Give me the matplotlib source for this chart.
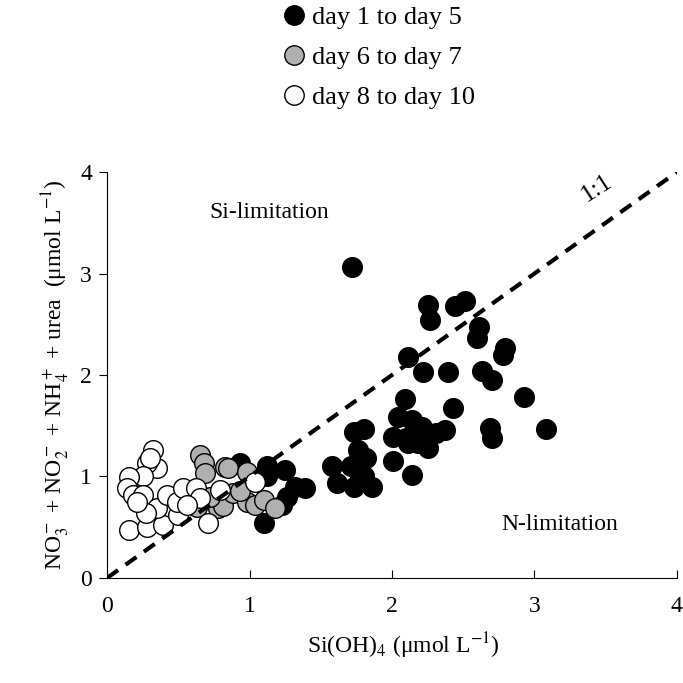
import matplotlib
matplotlib.use("Agg")
import matplotlib.pyplot as plt
from matplotlib.lines import Line2D

# day 1 to day 5
x_d1 = [1.72, 2.25, 2.27, 2.44, 2.51, 2.61, 2.60, 2.79, 2.78, 2.11, 2.22, 2.39, 2.63, 2.70,
        2.93, 2.09, 2.43, 3.08, 2.69, 2.70, 2.21, 2.37, 2.31, 2.25, 2.14, 2.04, 2.01, 2.11,
        2.10, 2.18, 2.01, 2.14, 1.73, 1.80, 1.76, 1.82, 1.58, 1.71, 1.61, 1.73, 1.86, 1.80,
        1.76, 1.39, 0.93, 1.12, 1.25, 1.12, 1.32, 1.26, 1.23, 1.10]
y_d1 = [3.06, 2.69, 2.54, 2.68, 2.73, 2.47, 2.36, 2.27, 2.20, 2.18, 2.03, 2.03, 2.04, 1.95,
        1.78, 1.76, 1.67, 1.47, 1.48, 1.38, 1.49, 1.46, 1.43, 1.28, 1.56, 1.59, 1.39, 1.33,
        1.38, 1.33, 1.15, 1.01, 1.44, 1.47, 1.26, 1.18, 1.10, 1.10, 0.93, 0.90, 0.90, 1.00,
        1.05, 0.89, 1.13, 1.10, 1.06, 1.00, 0.90, 0.80, 0.72, 0.54]

# day 6 to day 7
x_d6 = [0.65, 0.68, 0.69, 0.83, 0.85, 0.98, 0.63, 0.78, 0.81, 0.88, 0.98, 1.04, 1.10, 1.18,
        0.93, 0.72]
y_d6 = [1.21, 1.13, 1.03, 1.09, 1.08, 1.04, 0.70, 0.69, 0.71, 0.84, 0.75, 0.72, 0.77, 0.69,
        0.86, 0.80]

# day 8 to day 10
x_d8 = [0.32, 0.35, 0.28, 0.30, 0.25, 0.15, 0.14, 0.18, 0.25, 0.15, 0.28, 0.39, 0.35, 0.27,
        0.42, 0.50, 0.49, 0.53, 0.62, 0.65, 0.56, 0.71, 0.79, 1.04, 0.21]
y_d8 = [1.26, 1.08, 1.13, 1.18, 1.00, 0.99, 0.89, 0.82, 0.82, 0.47, 0.50, 0.52, 0.69, 0.64,
        0.82, 0.62, 0.75, 0.89, 0.89, 0.79, 0.72, 0.54, 0.87, 0.94, 0.75]

labels = ["day 1 to day 5", "day 6 to day 7", "day 8 to day 10"]
colors = ["black", "#b0b0b0", "white"]

plt.rcParams["font.family"] = ["Liberation Serif", "DejaVu Serif"]
plt.rcParams["mathtext.fontset"] = "stix"

fig = plt.figure(figsize=(6.83, 6.83), dpi=100)
ax = fig.add_axes([0.157, 0.154, 0.834, 0.594])

msize = 200
for xs, ys, c in zip([x_d1, x_d6, x_d8], [y_d1, y_d6, y_d8], colors):
    ax.scatter(xs, ys, s=msize, facecolor=c, edgecolor="black", linewidth=1.0, zorder=2)

ax.plot([0, 4], [0, 4], color="black", linestyle=(0, (3.2, 2.2)), linewidth=3, zorder=3)

ax.set_xlim(0, 4)
ax.set_ylim(0, 4)
ax.set_xticks([0, 1, 2, 3, 4])
ax.set_yticks([0, 1, 2, 3, 4])
ax.spines["top"].set_visible(False)
ax.spines["right"].set_visible(False)
ax.tick_params(axis="x", direction="in", length=6, labelsize=17, pad=13)
ax.tick_params(axis="y", direction="out", length=6, labelsize=17, pad=5)

ax.set_xlabel("Si(OH)$_4$ (μmol L$^{-1}$)", fontsize=17, labelpad=12)
ax.xaxis.set_label_coords(0.52, -0.13)
ax.set_ylabel("NO$_3^-$ + NO$_2^-$ + NH$_4^+$ + urea  (μmol L$^{-1}$)", fontsize=17, labelpad=6)

ax.text(1.14, 3.6, "Si-limitation", fontsize=17, ha="center", va="center")
ax.text(3.18, 0.53, "N-limitation", fontsize=17, ha="center", va="center")
ax.text(3.44, 3.84, "1:1", fontsize=18, ha="center", va="center", rotation=33)

handles = [Line2D([], [], marker="o", linestyle="none", markersize=14,
                  markerfacecolor=c, markeredgecolor="black", markeredgewidth=1.0)
           for c in colors]
fig.legend(handles, labels, loc="upper left", bbox_to_anchor=(0.377, 1.026),
           frameon=False, fontsize=19, handletextpad=0.15, labelspacing=0.62,
           handlelength=1.0)

fig.savefig("out.png", dpi=100)
